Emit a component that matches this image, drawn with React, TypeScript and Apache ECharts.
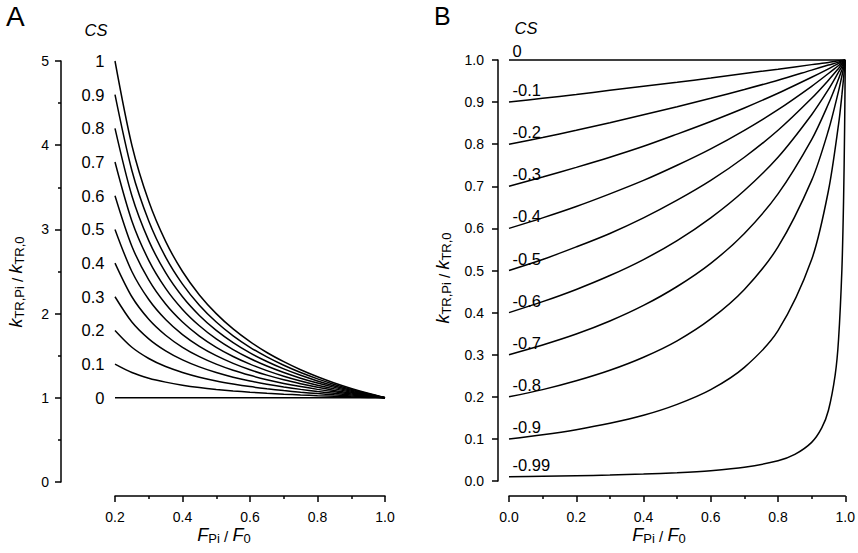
import React, { useEffect, useRef } from "react";
import * as echarts from "echarts";

const FONT = "'Liberation Sans', Arial, Helvetica, sans-serif";

// ---------- Panel A ----------
const aX = [0.2, 0.25, 0.3, 0.35, 0.4, 0.45, 0.5, 0.55, 0.6, 0.65, 0.7, 0.75, 0.8, 0.85, 0.9, 0.95, 1.0];
const aCsLabels = ["1", "0.9", "0.8", "0.7", "0.6", "0.5", "0.4", "0.3", "0.2", "0.1", "0"];
const aCs10 = [5, 4, 3.333, 2.857, 2.5, 2.222, 2, 1.818, 1.667, 1.538, 1.429, 1.333, 1.25, 1.176, 1.111, 1.053, 1];
const aCs09 = [4.6, 3.7, 3.1, 2.671, 2.35, 2.1, 1.9, 1.736, 1.6, 1.485, 1.386, 1.3, 1.225, 1.159, 1.1, 1.047, 1];
const aCs08 = [4.2, 3.4, 2.867, 2.486, 2.2, 1.978, 1.8, 1.655, 1.533, 1.431, 1.343, 1.267, 1.2, 1.141, 1.089, 1.042, 1];
const aCs07 = [3.8, 3.1, 2.633, 2.3, 2.05, 1.856, 1.7, 1.573, 1.467, 1.377, 1.3, 1.233, 1.175, 1.124, 1.078, 1.037, 1];
const aCs06 = [3.4, 2.8, 2.4, 2.114, 1.9, 1.733, 1.6, 1.491, 1.4, 1.323, 1.257, 1.2, 1.15, 1.106, 1.067, 1.032, 1];
const aCs05 = [3.0, 2.5, 2.167, 1.929, 1.75, 1.611, 1.5, 1.409, 1.333, 1.269, 1.214, 1.167, 1.125, 1.088, 1.056, 1.026, 1];
const aCs04 = [2.6, 2.2, 1.933, 1.743, 1.6, 1.489, 1.4, 1.327, 1.267, 1.215, 1.171, 1.133, 1.1, 1.071, 1.044, 1.021, 1];
const aCs03 = [2.2, 1.9, 1.7, 1.557, 1.45, 1.367, 1.3, 1.245, 1.2, 1.162, 1.129, 1.1, 1.075, 1.053, 1.033, 1.016, 1];
const aCs02 = [1.8, 1.6, 1.467, 1.371, 1.3, 1.244, 1.2, 1.164, 1.133, 1.108, 1.086, 1.067, 1.05, 1.035, 1.022, 1.011, 1];
const aCs01 = [1.4, 1.3, 1.233, 1.186, 1.15, 1.122, 1.1, 1.082, 1.067, 1.054, 1.043, 1.033, 1.025, 1.018, 1.011, 1.005, 1];
const aCs00 = [1, 1, 1, 1, 1, 1, 1, 1, 1, 1, 1, 1, 1, 1, 1, 1, 1];
const aCurves = [aCs10, aCs09, aCs08, aCs07, aCs06, aCs05, aCs04, aCs03, aCs02, aCs01, aCs00];
const aXTicks = { min: 0.2, max: 1.0, interval: 0.2 };
const aYTicks = { min: 0, max: 5, interval: 1 };

// ---------- Panel B ----------
const bX = [0, 0.1, 0.2, 0.3, 0.4, 0.5, 0.6, 0.7, 0.8, 0.9, 0.95, 0.98, 0.99, 1.0];
const bCsLabels = ["0", "-0.1", "-0.2", "-0.3", "-0.4", "-0.5", "-0.6", "-0.7", "-0.8", "-0.9", "-0.99"];
const bCs00 = [1, 1, 1, 1, 1, 1, 1, 1, 1, 1, 1, 1, 1, 1];
const bCs01 = [0.9, 0.909, 0.918, 0.928, 0.9375, 0.947, 0.957, 0.968, 0.978, 0.989, 0.994, 0.998, 0.999, 1.0];
const bCs02 = [0.8, 0.816, 0.833, 0.851, 0.87, 0.889, 0.909, 0.93, 0.952, 0.976, 0.988, 0.995, 0.998, 1.0];
const bCs03 = [0.7, 0.722, 0.745, 0.769, 0.795, 0.824, 0.854, 0.886, 0.921, 0.959, 0.979, 0.992, 0.996, 1.0];
const bCs04 = [0.6, 0.625, 0.652, 0.682, 0.714, 0.75, 0.789, 0.833, 0.882, 0.9375, 0.968, 0.987, 0.993, 1.0];
const bCs05 = [0.5, 0.526, 0.556, 0.588, 0.625, 0.667, 0.714, 0.769, 0.833, 0.909, 0.952, 0.98, 0.99, 1.0];
const bCs06 = [0.4, 0.426, 0.455, 0.488, 0.526, 0.571, 0.625, 0.69, 0.769, 0.87, 0.93, 0.971, 0.985, 1.0];
const bCs07 = [0.3, 0.323, 0.349, 0.38, 0.417, 0.462, 0.517, 0.588, 0.682, 0.811, 0.896, 0.955, 0.977, 1.0];
const bCs08 = [0.2, 0.217, 0.238, 0.263, 0.294, 0.333, 0.385, 0.455, 0.556, 0.714, 0.833, 0.926, 0.962, 1.0];
const bCs09 = [0.1, 0.11, 0.122, 0.137, 0.156, 0.182, 0.217, 0.27, 0.357, 0.526, 0.69, 0.847, 0.917, 1.0];
const bX099 = [0, 0.1, 0.2, 0.3, 0.4, 0.5, 0.6, 0.7, 0.8, 0.85, 0.9, 0.93, 0.95, 0.97, 0.98, 0.99, 0.995, 0.998, 1.0];
const bCs099 = [0.01, 0.0111, 0.0125, 0.0142, 0.0166, 0.0198, 0.0246, 0.0326, 0.0481, 0.0631, 0.0917, 0.126, 0.168, 0.252, 0.336, 0.503, 0.669, 0.835, 1.0];
const bCurves = [bCs00, bCs01, bCs02, bCs03, bCs04, bCs05, bCs06, bCs07, bCs08, bCs09];
const bXTicks = { min: 0, max: 1.0, interval: 0.2 };
const bYTicks = { min: 0, max: 1.0, interval: 0.1 };

const BLACK = "#000";

function axisCommon(labelMargin: number, minor: boolean, decimals: number) {
  return {
    type: "value" as const,
    axisLine: { show: true, onZero: false, lineStyle: { color: BLACK, width: 1.5 } },
    axisTick: { show: true, inside: false, length: 6, lineStyle: { color: BLACK, width: 1.5 } },
    minorTick: { show: minor, splitNumber: 2, length: 3, lineStyle: { color: BLACK, width: 1.5 } },
    axisLabel: {
      margin: labelMargin,
      fontSize: 14,
      color: BLACK,
      fontFamily: FONT,
      formatter: (v: number) => v.toFixed(decimals),
    },
    splitLine: { show: false },
    minorSplitLine: { show: false },
  };
}

function lineSeries(xs: number[], ys: number[], axisIndex: number) {
  return {
    type: "line",
    xAxisIndex: axisIndex,
    yAxisIndex: axisIndex,
    data: xs.map((x, i) => [x, ys[i]]),
    showSymbol: false,
    symbol: "none",
    smooth: 0.3,
    clip: false,
    silent: true,
    lineStyle: { color: BLACK, width: 1.5 },
  };
}

const subRich = {
  i: { fontStyle: "italic", fontSize: 18, fontFamily: FONT, fill: BLACK, color: BLACK },
  s: { fontSize: 13, fontFamily: FONT, fill: BLACK, color: BLACK, padding: [6, 0, 0, 0] },
  n: { fontSize: 15, fontFamily: FONT, fill: BLACK, color: BLACK, padding: [3, 0, 0, 0] },
};

const yTitle = "{i|k}{s|TR,Pi}{n| / }{i|k}{s|TR,0}";
const xTitle = "{i|F}{s|Pi}{n| / }{i|F}{s|0}";

const csLabelStyle = {
  show: true,
  formatter: "{b}",
  fontSize: 16.5,
  color: BLACK,
  opacity: 1,
  fontFamily: FONT,
};

export default function App() {
  const ref = useRef<HTMLDivElement>(null);

  useEffect(() => {
    if (!ref.current) return;
    const chart = echarts.init(ref.current, undefined, { renderer: "svg" });

    const series: any[] = [];
    aCurves.forEach((ys) => series.push(lineSeries(aX, ys, 0)));
    bCurves.forEach((ys) => series.push(lineSeries(bX, ys, 1)));
    series.push(lineSeries(bX099, bCs099, 1));

    // CS labels of panel A (at the start of each curve)
    series.push({
      type: "scatter",
      xAxisIndex: 0,
      yAxisIndex: 0,
      symbolSize: 1,
      silent: true,
      itemStyle: { color: "rgba(0,0,0,0)", opacity: 1 },
      data: aCurves.map((ys, k) => ({ name: aCsLabels[k], value: [aX[0], ys[0]] })),
      label: { ...csLabelStyle, position: "left", distance: 10 },
    });

    // CS labels of panel B
    const bStarts = bCurves.map((ys) => ys[0]).concat([bCs099[0]]);
    series.push({
      type: "scatter",
      xAxisIndex: 1,
      yAxisIndex: 1,
      symbolSize: 1,
      silent: true,
      itemStyle: { color: "rgba(0,0,0,0)", opacity: 1 },
      data: bStarts.map((y, k) => ({
        name: bCsLabels[k],
        value: [bX[0], y],
        label: { offset: [0, k === 0 ? -9 : -12] },
      })),
      label: { ...csLabelStyle, position: "right", distance: 3 },
    });

    chart.setOption({
      animation: false,
      backgroundColor: "#fff",
      textStyle: { fontFamily: FONT },
      grid: [
        { left: 115, top: 61, width: 270, height: 421 },
        { left: 509, top: 60, width: 337, height: 421 },
      ],
      xAxis: [
        { ...axisCommon(14, true, 1), gridIndex: 0, ...aXTicks, offset: 14 },
        { ...axisCommon(14, true, 1), gridIndex: 1, ...bXTicks, offset: 15 },
      ],
      yAxis: [
        { ...axisCommon(12, true, 0), gridIndex: 0, ...aYTicks, offset: 54 },
        { ...axisCommon(14, false, 1), gridIndex: 1, ...bYTicks, offset: 11 },
      ],
      graphic: [
        { type: "text", x: 6, y: 16, silent: true, style: { text: "A", fontSize: 28, fontFamily: FONT, fill: BLACK, align: "left", verticalAlign: "middle" } },
        { type: "text", x: 434, y: 16, silent: true, style: { text: "B", fontSize: 25, fontFamily: FONT, fill: BLACK, align: "left", verticalAlign: "middle" } },
        { type: "text", x: 96, y: 30, silent: true, style: { text: "CS", fontSize: 16.5, fontStyle: "italic", fontFamily: FONT, fill: BLACK, align: "center", verticalAlign: "middle" } },
        { type: "text", x: 526, y: 28, silent: true, style: { text: "CS", fontSize: 16.5, fontStyle: "italic", fontFamily: FONT, fill: BLACK, align: "center", verticalAlign: "middle" } },
        { type: "text", x: 16, y: 282, rotation: Math.PI / 2, silent: true, style: { text: yTitle, rich: subRich, fill: BLACK, align: "center", verticalAlign: "middle" } },
        { type: "text", x: 443, y: 278, rotation: Math.PI / 2, silent: true, style: { text: yTitle, rich: subRich, fill: BLACK, align: "center", verticalAlign: "middle" } },
        { type: "text", x: 224, y: 535, silent: true, style: { text: xTitle, rich: subRich, fill: BLACK, align: "center", verticalAlign: "middle" } },
        { type: "text", x: 659, y: 535, silent: true, style: { text: xTitle, rich: subRich, fill: BLACK, align: "center", verticalAlign: "middle" } },
      ],
      series,
    });

    return () => chart.dispose();
  }, []);

  return (
    <div
      ref={ref}
      style={{ position: "absolute", left: 0, top: 0, width: 858, height: 553, background: "#fff" }}
    />
  );
}
